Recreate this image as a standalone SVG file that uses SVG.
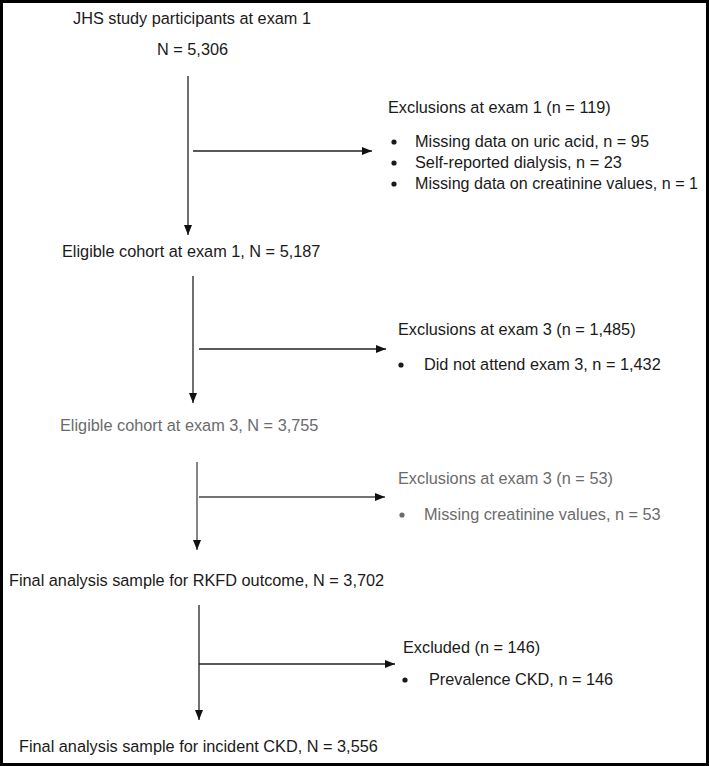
<svg xmlns="http://www.w3.org/2000/svg" width="709" height="766" viewBox="0 0 709 766">
  <style>
    text { font-family: "Liberation Sans", Arial, sans-serif; font-size: 16.3px; fill: #1a1a1a; }
    text.gray { fill: #6b6b6b; }
    .ln { stroke: #222; stroke-width: 1.3; fill: none; }
    .ln.g { stroke: #444; }
    .dot { fill: #1a1a1a; }
    .dot.gray { fill: #6b6b6b; }
  </style>
  <defs>
    <marker id="ah" viewBox="0 0 10 8" refX="10" refY="4" markerWidth="10" markerHeight="8" markerUnits="userSpaceOnUse" orient="auto">
      <path d="M0,0 L10,4 L0,8 Z" fill="#111"/>
    </marker>
  </defs>
  <rect x="0" y="0" width="709" height="766" fill="#fff"/>
  <rect x="1.5" y="1.5" width="706" height="763" fill="none" stroke="#000" stroke-width="3"/>

  <g id="connectors">
    <line class="ln" x1="188" y1="76" x2="188" y2="235" marker-end="url(#ah)"/>
    <line class="ln" x1="193" y1="151" x2="372" y2="151" marker-end="url(#ah)"/>
    <line class="ln" x1="193" y1="276" x2="193" y2="403" marker-end="url(#ah)"/>
    <line class="ln" x1="199" y1="349" x2="386" y2="349" marker-end="url(#ah)"/>
    <line class="ln g" x1="197" y1="462" x2="197" y2="550" marker-end="url(#ah)"/>
    <line class="ln g" x1="199" y1="497" x2="385" y2="497" marker-end="url(#ah)"/>
    <line class="ln" x1="199" y1="605" x2="199" y2="720" marker-end="url(#ah)"/>
    <line class="ln" x1="199" y1="664" x2="395" y2="664" marker-end="url(#ah)"/>
  </g>

  <g id="start">
    <text x="73" y="24">JHS study participants at exam 1</text>
    <text x="157" y="55">N = 5,306</text>
  </g>

  <g id="excl1">
    <text x="388" y="113">Exclusions at exam 1 (n = 119)</text>
    <circle class="dot" cx="394" cy="142" r="2.6"/>
    <text x="415" y="147">Missing data on uric acid, n = 95</text>
    <circle class="dot" cx="394" cy="163" r="2.6"/>
    <text x="415" y="168">Self-reported dialysis, n = 23</text>
    <circle class="dot" cx="394" cy="184" r="2.6"/>
    <text x="415" y="189" textLength="283" lengthAdjust="spacingAndGlyphs">Missing data on creatinine values, n = 1</text>
  </g>

  <g id="cohort1">
    <text x="62" y="257">Eligible cohort at exam 1, N = 5,187</text>
  </g>

  <g id="excl3a">
    <text x="398" y="335">Exclusions at exam 3 (n = 1,485)</text>
    <circle class="dot" cx="401" cy="365" r="2.6"/>
    <text x="424" y="370">Did not attend exam 3, n = 1,432</text>
  </g>

  <g id="cohort3">
    <text class="gray" x="60" y="431">Eligible cohort at exam 3, N = 3,755</text>
  </g>

  <g id="excl3b">
    <text class="gray" x="398" y="484">Exclusions at exam 3 (n = 53)</text>
    <circle class="dot gray" cx="402" cy="515" r="2.6"/>
    <text class="gray" x="424" y="520">Missing creatinine values, n = 53</text>
  </g>

  <g id="final_rkfd">
    <text x="9" y="586">Final analysis sample for RKFD outcome, N = 3,702</text>
  </g>

  <g id="excl_ckd">
    <text x="403" y="653">Excluded (n = 146)</text>
    <circle class="dot" cx="405" cy="680" r="2.6"/>
    <text x="429" y="685">Prevalence CKD, n = 146</text>
  </g>

  <g id="final_ckd">
    <text x="19" y="752">Final analysis sample for incident CKD, N = 3,556</text>
  </g>
</svg>
